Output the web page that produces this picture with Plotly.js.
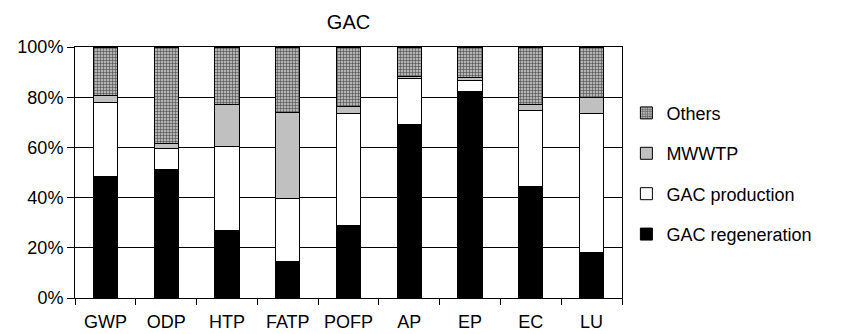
<!DOCTYPE html>
<html>
<head>
<meta charset="utf-8">
<script src="https://cdn.plot.ly/plotly-3.0.1.min.js"></script>
<style>html,body{margin:0;padding:0;background:#fff;}#chart{width:849px;height:334px;}</style>
</head>
<body>
<div id="chart"></div>
<script>
const categories = ["GWP", "ODP", "HTP", "FATP", "POFP", "AP", "EP", "EC", "LU"];
const gacRegeneration = [48.6, 51.0, 27.0, 14.4, 28.8, 69.0, 82.2, 44.3, 18.0];
const gacProduction = [29.1, 8.7, 33.3, 25.4, 44.6, 18.3, 4.4, 30.3, 55.4];
const mwwtp = [2.9, 1.7, 16.7, 34.3, 2.9, 1.0, 1.1, 2.4, 6.5];
const others = [19.4, 38.6, 23.0, 25.9, 23.7, 11.7, 12.3, 23.0, 20.1];
const yTickVals = [0, 20, 40, 60, 80, 100];

const line = {color: "#000", width: 1};
const traces = [
  {name: "GAC regeneration", y: gacRegeneration, legendrank: 4, marker: {color: "#000", line: line}},
  {name: "GAC production", y: gacProduction, legendrank: 3, marker: {color: "#fff", line: line}},
  {name: "MWWTP", y: mwwtp, legendrank: 2, marker: {color: "#c0c0c0", line: line}},
  {name: "Others", y: others, legendrank: 1, marker: {color: "#a8a8a8", line: line,
    pattern: {shape: "+", fgcolor: "#4a4a4a", bgcolor: "#b4b4b4", size: 3, solidity: 0.35}}}
].map((t, i) => Object.assign({type: "bar", x: categories, width: 0.4, legendgroup: "g" + i, hoverinfo: "skip"}, t));

const font = {family: "Liberation Sans, Arial, sans-serif", size: 17, color: "#000"};
const layout = {
  width: 849, height: 334,
  margin: {l: 75, r: 227, t: 47, b: 36},
  paper_bgcolor: "#fff", plot_bgcolor: "#fff",
  font: font,
  barmode: "stack",
  title: {text: "GAC", x: 0.5, xref: "paper", xanchor: "center", y: 1 - 22/334, yref: "container", yanchor: "middle", font: {family: font.family, size: 20, color: "#000"}},
  showlegend: true,
  legend: {x: 1.008, xanchor: "left", y: 0.81, yanchor: "top", traceorder: "grouped", tracegroupgap: 14, itemwidth: 30, font: {family: font.family, size: 18, color: "#000"}, bgcolor: "rgba(0,0,0,0)"},
  xaxis: {type: "category", showline: true, linecolor: "#000", linewidth: 1, mirror: true, ticks: "outside", tickson: "boundaries", ticklen: 6, tickcolor: "#000", showgrid: false, zeroline: false, tickfont: {size: 18}, ticklabelstandoff: 7},
  yaxis: {range: [0, 100], tickvals: yTickVals, ticktext: yTickVals.map(v => v + "%"), showline: true, linecolor: "#000", linewidth: 1, mirror: true, ticks: "outside", ticklen: 7, tickcolor: "#000", showgrid: true, gridcolor: "#000", gridwidth: 1, zeroline: false, tickfont: {size: 18}}
};
Plotly.newPlot("chart", traces, layout, {staticPlot: true, displayModeBar: false});
</script>
</body>
</html>
